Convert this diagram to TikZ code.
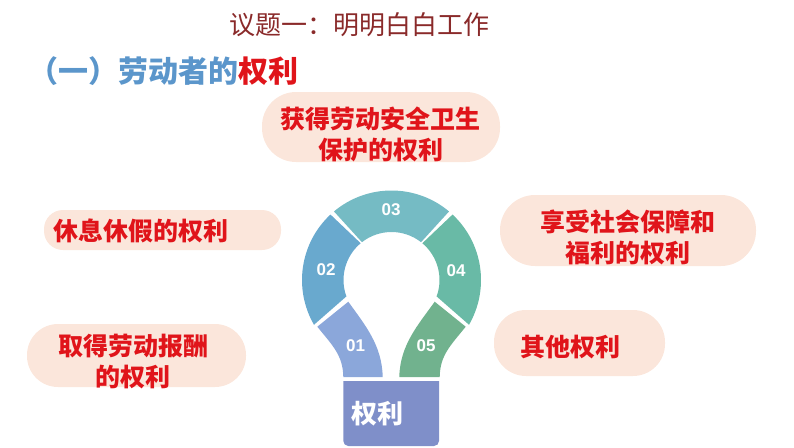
\documentclass[tikz,border=0pt]{standalone}
\usepackage{fontspec}
\setmainfont{Noto Sans CJK SC}
\setsansfont{Liberation Sans}
\usetikzlibrary{calc}
\definecolor{mypeach}{HTML}{FBE6DB}
\definecolor{myred}{HTML}{E0141A}
\definecolor{myblue}{HTML}{5B96CB}
\definecolor{mytitle}{HTML}{8A2A2A}
\definecolor{segone}{HTML}{8BA7DA}
\definecolor{segtwo}{HTML}{69A9CE}
\definecolor{segthree}{HTML}{75BBC4}
\definecolor{segfour}{HTML}{69BAA6}
\definecolor{segfive}{HTML}{71B28E}
\definecolor{mybase}{HTML}{7F8FC9}
\tikzset{
	pillnode/.style={
			rounded corners=#1,
			fill=mypeach,
			draw=none
		},
	rightnode/.style={
			font=\bfseries\fontsize{25}{31}\selectfont,
			text=myred,
			align=center,
			inner sep=0pt
		},
	numnode/.style={
			font=\sffamily\bfseries\fontsize{17}{17}\selectfont,
			text=white,
			inner sep=0pt
		}
}
\begin{document}
\begin{tikzpicture}[x=1pt, y=-1pt]
\useasboundingbox (0,0) rectangle (794,447);
    \node[font=\fontsize{26}{26}\selectfont, text=mytitle, inner sep=0pt] (title) at (359,25)  { 议题一：明明白白工作 };
    \node[font=\bfseries\fontsize{30}{30}\selectfont, text=myblue, inner sep=0pt, anchor=west] (head) at (28,71)  { （一）劳动者的\textcolor{myred}{权利} };

    % the five pills
    \fill[pillnode=34pt] (262,92) rectangle (500,162);
    \fill[pillnode=19pt] (44,210) rectangle (281,250);
    \fill[pillnode=35pt] (500,195) rectangle (756,266);
    \fill[pillnode=31pt] (27,324) rectangle (246,387);
    \fill[pillnode=32pt] (494,310) rectangle (665,376);

    \node[rightnode] (r3) at (380.5,134)  { 获得劳动安全卫生\\保护的权利 };
    \node[rightnode] (r2) at (144,231)  { 休息休假的权利 };
    \node[rightnode] (r4) at (628,237.5)  { 享受社会保障和\\福利的权利 };
    \node[rightnode] (r1) at (133,362)  { 取得劳动报酬\\的权利 };
    \node[rightnode] (r5) at (573,347)  { 其他权利 };

    % the bulb
    \coordinate (ctr) at (391.5,280);
    \fill[segthree] ($(ctr)+(130:89.5pt)$) arc[start angle=130, end angle=50, radius=89.5pt]
        -- ($(ctr)+(52:48pt)$) arc[start angle=52, end angle=128, radius=48pt] -- cycle;
    \fill[segtwo] ($(ctr)+(133:89.5pt)$) arc[start angle=133, end angle=210, radius=89.5pt]
        -- ($(ctr)+(200:48pt)$) arc[start angle=200, end angle=130, radius=48pt] -- cycle;
    \fill[segfour] ($(ctr)+(47:89.5pt)$) arc[start angle=47, end angle=-30, radius=89.5pt]
        -- ($(ctr)+(-20:48pt)$) arc[start angle=-20, end angle=50, radius=48pt] -- cycle;
    \fill[segone] (348.3,301.7) -- (317.3,326.7) .. controls (332,345) and (343,355) .. (343.3,377)
        -- (382.7,377) .. controls (382,345) and (365,325) .. cycle;
    \fill[segfive] (434.7,301.7) -- (465.7,326.7) .. controls (451,345) and (440,355) .. (439.7,377)
        -- (399.3,377) .. controls (400,345) and (418,325) .. cycle;
    \fill[mybase] (343.3,381) [rounded corners=5pt] -- (343.3,446) -- (439,446) [sharp corners] -- (439,381) -- cycle;

    \node[numnode] (n1) at (355.5,346)  { 01 };
    \node[numnode] (n2) at (326,270)  { 02 };
    \node[numnode] (n3) at (391,210)  { 03 };
    \node[numnode] (n4) at (456,271)  { 04 };
    \node[numnode] (n5) at (426,346)  { 05 };
    \node[font=\bfseries\fontsize{26}{26}\selectfont, text=white, inner sep=0pt] (base) at (377.5,414)  { 权利 };
\end{tikzpicture}
\end{document}
